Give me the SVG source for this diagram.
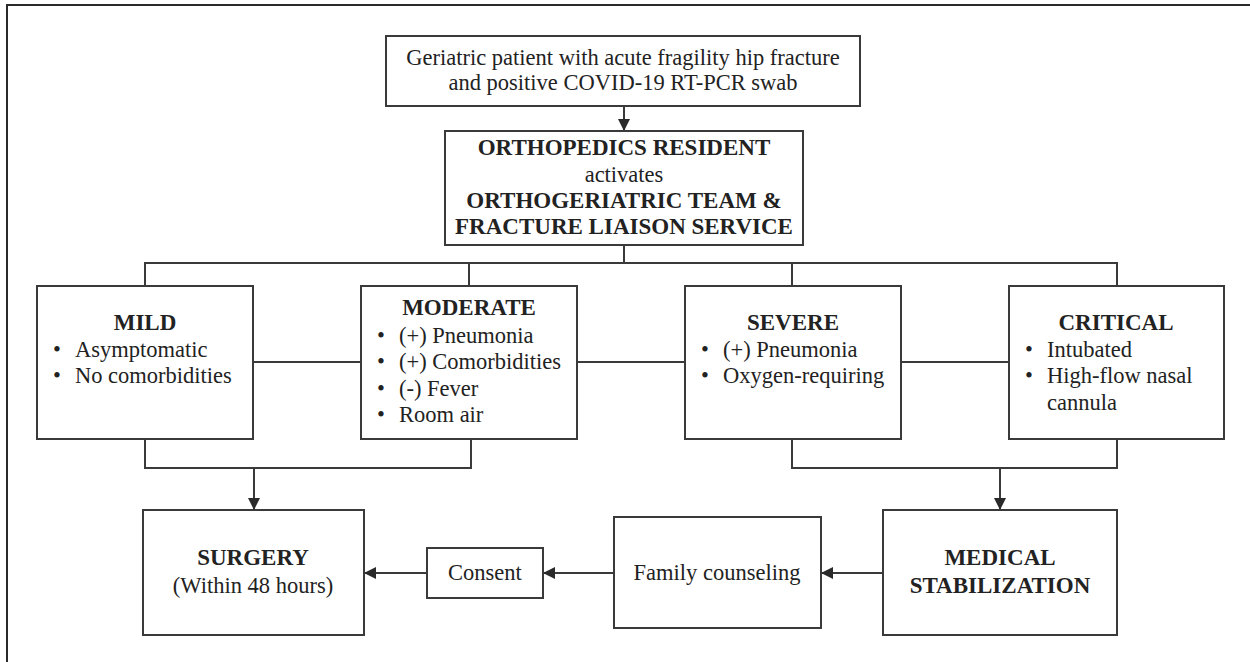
<svg xmlns="http://www.w3.org/2000/svg" width="1250" height="662" viewBox="0 0 1250 662">
<style>
.box{fill:#fff;stroke:#3a3a3a;stroke-width:2}
.ln{fill:none;stroke:#3a3a3a;stroke-width:2}
text{font-family:"Liberation Serif","Times New Roman",serif;font-size:22.5px;fill:#222}
.b{font-weight:bold;font-size:23px}
.c{text-anchor:middle}
</style>
<defs>
<marker id="ah" viewBox="0 0 10 10" refX="10" refY="5" markerWidth="6" markerHeight="6" markerUnits="strokeWidth" orient="auto">
<path d="M0,0 L10,5 L0,10 z" fill="#2a2a2a"/>
</marker>
</defs>
<rect width="1250" height="662" fill="#fff"/>
<path d="M7,662 V5 H1250" fill="none" stroke="#2a2a2a" stroke-width="2"/>

<g id="connectors">
<path class="ln" d="M624,106 V131" marker-end="url(#ah)"/>
<path class="ln" d="M624,245 V263"/>
<path class="ln" d="M145,286 V263 H1117 V286"/>
<path class="ln" d="M469,263 V286"/>
<path class="ln" d="M792,263 V286"/>
<path class="ln" d="M253,362 H361"/>
<path class="ln" d="M577,362 H685"/>
<path class="ln" d="M901,362 H1009"/>
<path class="ln" d="M145,439 V468 H471 V439"/>
<path class="ln" d="M254,468 V510" marker-end="url(#ah)"/>
<path class="ln" d="M792,439 V468 H1117 V439"/>
<path class="ln" d="M1000,468 V510" marker-end="url(#ah)"/>
<path class="ln" d="M883,573 H821" marker-end="url(#ah)"/>
<path class="ln" d="M614,573 H543" marker-end="url(#ah)"/>
<path class="ln" d="M427,573 H364" marker-end="url(#ah)"/>
</g>

<g id="n-patient">
<rect class="box" x="386" y="36" width="474" height="70"/>
<text class="c" x="623" y="65">Geriatric patient with acute fragility hip fracture</text>
<text class="c" x="623" y="90">and positive COVID-19 RT-PCR swab</text>
</g>

<g id="n-resident">
<rect class="box" x="445" y="131" width="358" height="114"/>
<text class="c b" x="624" y="155">ORTHOPEDICS RESIDENT</text>
<text class="c" x="624" y="182">activates</text>
<text class="c b" x="624" y="208">ORTHOGERIATRIC TEAM &amp;</text>
<text class="c b" x="624" y="234">FRACTURE LIAISON SERVICE</text>
</g>

<g id="n-mild">
<rect class="box" x="37" y="286" width="216" height="153"/>
<text class="c b" x="145" y="330">MILD</text>
<text x="53" y="357">•</text><text x="75" y="357">Asymptomatic</text>
<text x="53" y="383">•</text><text x="75" y="383">No comorbidities</text>
</g>

<g id="n-moderate">
<rect class="box" x="361" y="286" width="216" height="153"/>
<text class="c b" x="469" y="315">MODERATE</text>
<text x="377" y="343">•</text><text x="399" y="343">(+) Pneumonia</text>
<text x="377" y="369">•</text><text x="399" y="369">(+) Comorbidities</text>
<text x="377" y="396">•</text><text x="399" y="396">(-) Fever</text>
<text x="377" y="422">•</text><text x="399" y="422">Room air</text>
</g>

<g id="n-severe">
<rect class="box" x="685" y="286" width="216" height="153"/>
<text class="c b" x="793" y="330">SEVERE</text>
<text x="701" y="357">•</text><text x="723" y="357">(+) Pneumonia</text>
<text x="701" y="383">•</text><text x="723" y="383">Oxygen-requiring</text>
</g>

<g id="n-critical">
<rect class="box" x="1009" y="286" width="215" height="153"/>
<text class="c b" x="1116" y="330">CRITICAL</text>
<text x="1025" y="357">•</text><text x="1047" y="357">Intubated</text>
<text x="1025" y="383">•</text><text x="1047" y="383">High-flow nasal</text>
<text x="1047" y="410">cannula</text>
</g>

<g id="n-surgery">
<rect class="box" x="143" y="510" width="221" height="125"/>
<text class="c b" x="253" y="565">SURGERY</text>
<text class="c" x="253" y="593">(Within 48 hours)</text>
</g>

<g id="n-consent">
<rect class="box" x="427" y="548" width="116" height="50"/>
<text class="c" x="485" y="580">Consent</text>
</g>

<g id="n-family">
<rect class="box" x="614" y="517" width="207" height="111"/>
<text class="c" x="717" y="580">Family counseling</text>
</g>

<g id="n-medical">
<rect class="box" x="883" y="510" width="234" height="125"/>
<text class="c b" x="1000" y="565">MEDICAL</text>
<text class="c b" x="1000" y="593">STABILIZATION</text>
</g>
</svg>
